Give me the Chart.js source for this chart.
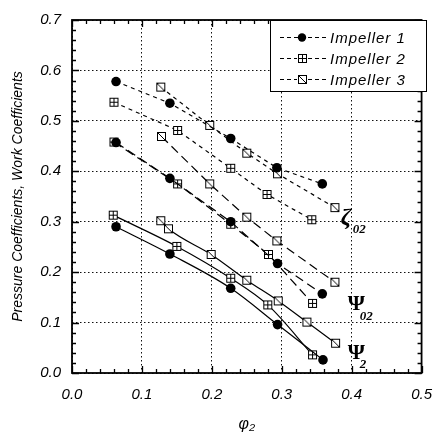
<!DOCTYPE html>
<html><head><meta charset="utf-8">
<script src="https://cdn.jsdelivr.net/npm/chart.js@4"></script>
<style>html,body{margin:0;padding:0;background:#fff}</style>
</head><body>
<canvas id="c" width="445" height="434"></canvas>
<script>
// ---- data ----
const xTickValues = [0.0, 0.1, 0.2, 0.3, 0.4, 0.5];
const yTickValues = [0.0, 0.1, 0.2, 0.3, 0.4, 0.5, 0.6, 0.7];
const seriesNames = ['Impeller 1', 'Impeller 2', 'Impeller 3'];
const yAxisTitle = 'Pressure Coefficients, Work Coefficients';
const xAxisTitle = 'φ₂';

const imp1ZetaX = [0.063, 0.140, 0.227, 0.293, 0.358];
const imp1ZetaY = [0.578, 0.535, 0.465, 0.407, 0.375];
const imp1Psi02X = [0.063, 0.140, 0.227, 0.294, 0.358];
const imp1Psi02Y = [0.457, 0.386, 0.300, 0.217, 0.157];
const imp1Psi2X = [0.063, 0.140, 0.227, 0.294, 0.359];
const imp1Psi2Y = [0.290, 0.236, 0.168, 0.096, 0.026];

const imp2ZetaX = [0.060, 0.151, 0.227, 0.279, 0.343];
const imp2ZetaY = [0.537, 0.481, 0.406, 0.354, 0.304];
const imp2Psi02X = [0.060, 0.151, 0.227, 0.281, 0.344];
const imp2Psi02Y = [0.458, 0.375, 0.295, 0.235, 0.138];
const imp2Psi2X = [0.059, 0.150, 0.227, 0.280, 0.344];
const imp2Psi2Y = [0.313, 0.251, 0.188, 0.135, 0.036];

const imp3ZetaX = [0.127, 0.197, 0.250, 0.294, 0.376];
const imp3ZetaY = [0.567, 0.491, 0.436, 0.395, 0.328];
const imp3Psi02X = [0.128, 0.197, 0.250, 0.293, 0.376];
const imp3Psi02Y = [0.469, 0.375, 0.309, 0.262, 0.180];
const imp3Psi2X = [0.127, 0.138, 0.199, 0.250, 0.295, 0.336, 0.377];
const imp3Psi2Y = [0.302, 0.286, 0.235, 0.184, 0.143, 0.101, 0.059];

const curveLabels = [
  {main: 'ζ', sub: '02', x: 0.396, y: 0.308, mainFont: 'bold italic 24px "Liberation Serif"'},
  {main: 'Ψ', sub: '02', x: 0.406, y: 0.136, mainFont: 'bold 22px "Liberation Serif"'},
  {main: 'Ψ', sub: '2',  x: 0.406, y: 0.040, mainFont: 'bold 22px "Liberation Serif"'}
];

// ---- marker images ----
function boxMarker(kind) {
  const s = 11, c = document.createElement('canvas');
  c.width = s; c.height = s;
  const g = c.getContext('2d');
  g.fillStyle = '#fff'; g.fillRect(1, 1, 9, 9);
  g.strokeStyle = '#000'; g.lineWidth = 1;
  g.strokeRect(1.5, 1.5, 8, 8);
  g.beginPath();
  if (kind === 'plus') { g.moveTo(5.5, 1.5); g.lineTo(5.5, 9.5); g.moveTo(1.5, 5.5); g.lineTo(9.5, 5.5); }
  else { g.moveTo(1.5, 1.5); g.lineTo(9.5, 9.5); }
  g.stroke();
  return c;
}
const plusImg = boxMarker('plus');
const slashImg = boxMarker('slash');
const markers = ['circle', plusImg, slashImg];

function pts(xs, ys) { return xs.map((x, i) => ({x: x, y: ys[i]})); }

const zetaDash = [4, 4];
const psi02Dash = [9, 5];

function ds(name, imp, xs, ys, dash, smooth) {
  return {
    label: name,
    data: pts(xs, ys),
    borderColor: '#000',
    backgroundColor: '#000',
    borderWidth: 1.2,
    borderDash: dash,
    pointStyle: markers[imp],
    pointRadius: imp === 0 ? 4.8 : 5.5,
    pointBorderWidth: 0,
    pointBackgroundColor: '#000',
    tension: 0,
    cubicInterpolationMode: smooth ? 'monotone' : 'default',
    fill: false
  };
}

const datasets = [
  ds(seriesNames[0] + ' ζ02', 0, imp1ZetaX, imp1ZetaY, zetaDash, false),
  ds(seriesNames[0] + ' Ψ02', 0, imp1Psi02X, imp1Psi02Y, psi02Dash, false),
  ds(seriesNames[0] + ' Ψ2', 0, imp1Psi2X, imp1Psi2Y, [], true),
  ds(seriesNames[1] + ' ζ02', 1, imp2ZetaX, imp2ZetaY, zetaDash, false),
  ds(seriesNames[1] + ' Ψ02', 1, imp2Psi02X, imp2Psi02Y, psi02Dash, false),
  ds(seriesNames[1] + ' Ψ2', 1, imp2Psi2X, imp2Psi2Y, [], true),
  ds(seriesNames[2] + ' ζ02', 2, imp3ZetaX, imp3ZetaY, zetaDash, false),
  ds(seriesNames[2] + ' Ψ02', 2, imp3Psi02X, imp3Psi02Y, psi02Dash, false),
  ds(seriesNames[2] + ' Ψ2', 2, imp3Psi2X, imp3Psi2Y, [], true)
];

const decor = {
  id: 'decor',
  afterDatasetsDraw(chart) {
    const {ctx, chartArea: a, scales: {x, y}} = chart;
    ctx.save();
    // frame
    ctx.strokeStyle = '#000'; ctx.lineWidth = 1.8; ctx.setLineDash([]);
    ctx.strokeRect(a.left, a.top, a.right - a.left, a.bottom - a.top);
    // inward ticks
    ctx.lineWidth = 1.3;
    ctx.beginPath();
    for (let i = 0; i <= 25; i++) {
      const v = i * 0.02, px = Math.round(x.getPixelForValue(v)) + 0.5;
      const L = (i % 5 === 0) ? 7 : 4;
      ctx.moveTo(px, a.bottom); ctx.lineTo(px, a.bottom - L);
      ctx.moveTo(px, a.top); ctx.lineTo(px, a.top + L);
    }
    for (let i = 0; i <= 35; i++) {
      const v = i * 0.02, py = Math.round(y.getPixelForValue(v)) + 0.5;
      const L = (i % 5 === 0) ? 7 : 4;
      ctx.moveTo(a.left, py); ctx.lineTo(a.left + L, py);
      ctx.moveTo(a.right, py); ctx.lineTo(a.right - L, py);
    }
    ctx.stroke();
    // curve labels
    ctx.fillStyle = '#000';
    ctx.textBaseline = 'middle'; ctx.textAlign = 'left';
    curveLabels.forEach(l => {
      const px = x.getPixelForValue(l.x), py = y.getPixelForValue(l.y);
      ctx.font = l.mainFont;
      ctx.fillText(l.main, px - 8, py);
      ctx.font = 'bold italic 13px "Liberation Serif"';
      ctx.fillText(l.sub, px + 4, py + 12);
    });
    // legend
    const bx = 270.5, by = 20.5, bw = 156, bh = 71;
    ctx.fillStyle = '#fff';
    ctx.fillRect(bx, by, bw, bh);
    ctx.strokeStyle = '#000'; ctx.lineWidth = 1;
    ctx.strokeRect(bx, by, bw, bh);
    const rows = [37, 58, 79];
    seriesNames.forEach((n, i) => {
      const ry = rows[i] + 0.5;
      ctx.setLineDash([4, 3]);
      ctx.beginPath(); ctx.moveTo(280, ry); ctx.lineTo(326, ry); ctx.stroke();
      ctx.setLineDash([]);
      if (i === 0) {
        ctx.fillStyle = '#000';
        ctx.beginPath(); ctx.arc(302, ry, 4.2, 0, Math.PI * 2); ctx.fill();
      } else {
        ctx.fillStyle = '#fff'; ctx.fillRect(297, ry - 5, 10, 10);
        ctx.drawImage(markers[i], 297, Math.round(ry - 5.5));
      }
      ctx.fillStyle = '#000';
      ctx.font = 'italic 15px "Liberation Sans"';
      ctx.letterSpacing = '1px';
      ctx.textBaseline = 'middle';
      ctx.fillText(n, 330, ry + 1);
      ctx.letterSpacing = '0px';
    });
    ctx.restore();
  }
};

new Chart(document.getElementById('c'), {
  type: 'line',
  data: {datasets},
  plugins: [decor],
  options: {
    responsive: false,
    devicePixelRatio: 1,
    animation: false,
    layout: {padding: {top: 12, right: 13, left: 0, bottom: 0}},
    plugins: {legend: {display: false}, tooltip: {enabled: false}},
    scales: {
      x: {
        type: 'linear', min: 0, max: 0.5,
        afterFit(s) { s.height = 61; },
        afterBuildTicks(s) { s.ticks = xTickValues.map(v => ({value: v})); },
        ticks: {
          callback: v => Number(v).toFixed(1),
          font: {family: '"Liberation Sans"', style: 'italic', size: 15},
          color: '#000', padding: 13, maxRotation: 0
        },
        grid: {color: '#111', lineWidth: 1, drawTicks: false},
        border: {display: false, dash: [1.5, 2.5]},
        title: {display: true, text: xAxisTitle, color: '#000',
          font: {family: '"Liberation Sans"', style: 'italic', size: 16},
          padding: {top: 0, bottom: 0}}
      },
      y: {
        type: 'linear', min: 0, max: 0.7,
        afterFit(s) { s.width = 72; },
        afterBuildTicks(s) { s.ticks = yTickValues.map(v => ({value: v})); },
        ticks: {
          callback: v => Number(v).toFixed(1),
          font: {family: '"Liberation Sans"', style: 'italic', size: 15},
          color: '#000', padding: 11
        },
        grid: {color: '#111', lineWidth: 1, drawTicks: false},
        border: {display: false, dash: [1.5, 2.5]},
        title: {display: true, text: yAxisTitle, color: '#000',
          font: {family: '"Liberation Sans"', style: 'italic', size: 14},
          padding: {top: 10, bottom: 0}}
      }
    }
  }
});
</script>
</body></html>
